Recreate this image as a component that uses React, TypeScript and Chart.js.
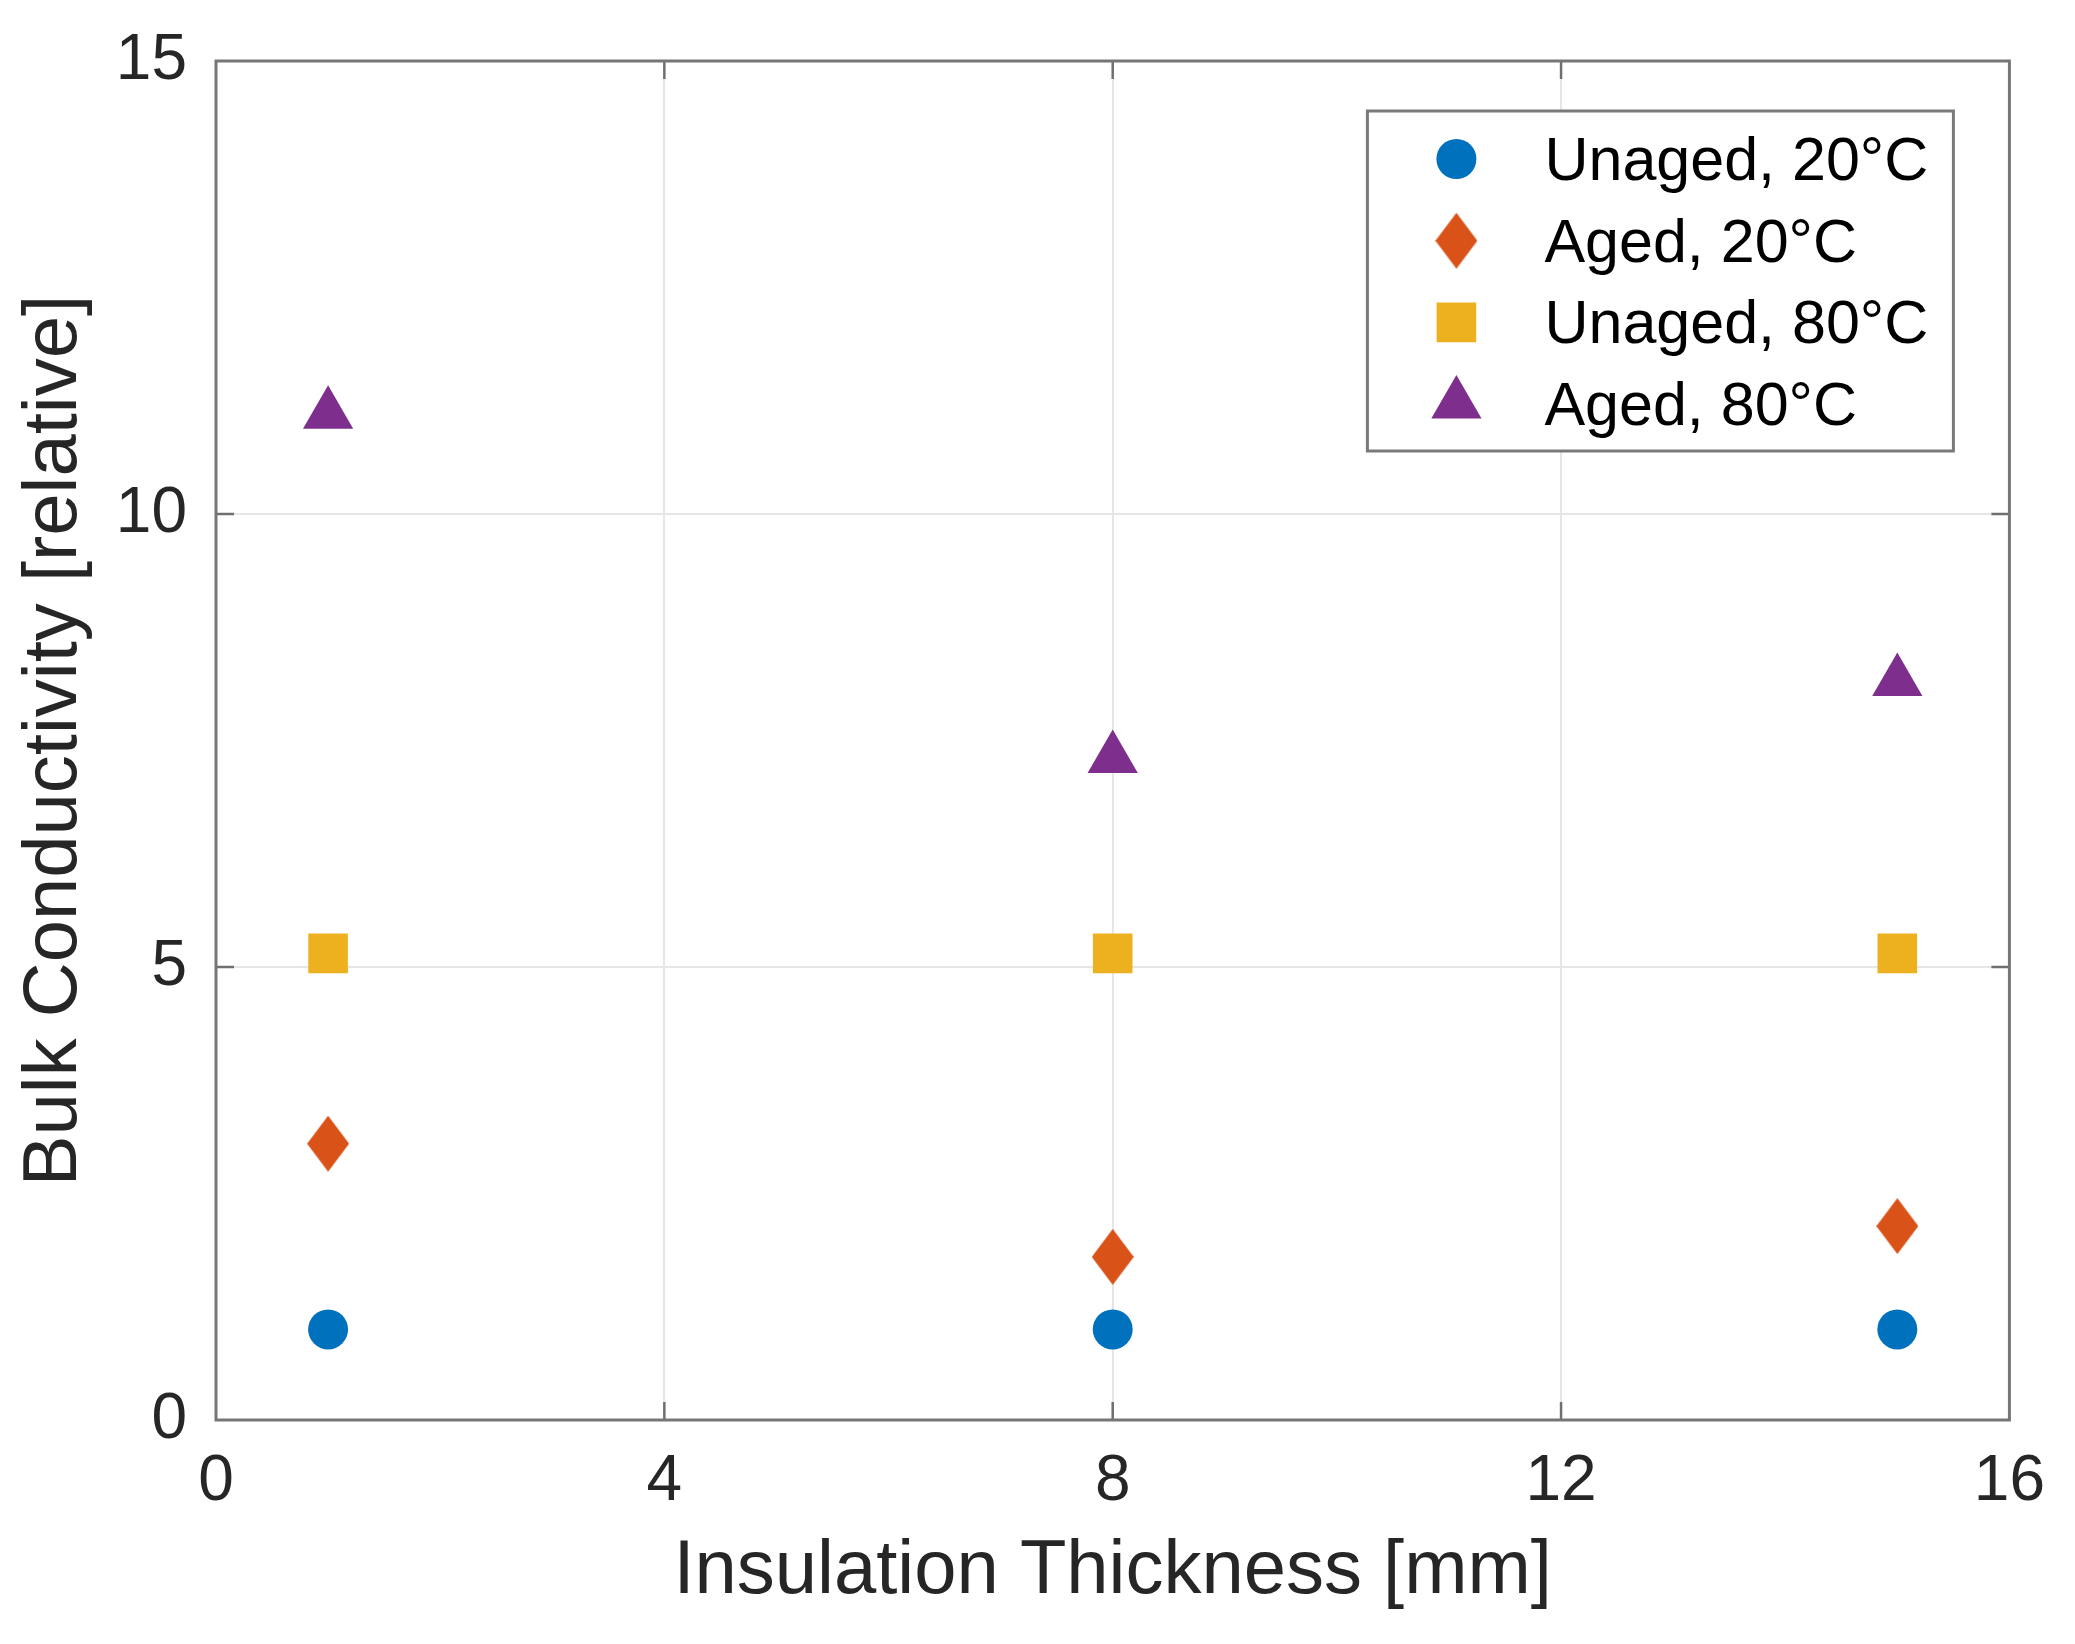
import React, { useEffect, useRef } from 'react';
import { Chart, registerables } from 'chart.js';
import { drawPoint } from 'chart.js/helpers';

Chart.register(...registerables);

// ---- data ----
const thicknessMm = [1, 8, 15];
const unaged20C = [1.0, 1.0, 1.0];
const aged20C = [3.05, 1.8, 2.14];
const unaged80C = [5.15, 5.15, 5.15];
const aged80C = [11.1, 7.3, 8.15];
const seriesLabels = ['Unaged, 20\u00B0C', 'Aged, 20\u00B0C', 'Unaged, 80\u00B0C', 'Aged, 80\u00B0C'];
const xAxisTitle = 'Insulation Thickness [mm]';
const yAxisTitle = 'Bulk Conductivity [relative]';

const FONT = "'Liberation Sans', Arial, Helvetica, sans-serif";
const COLORS = ['#0072BD', '#D95319', '#EDB120', '#7E2F8E'];

function makeDiamond(color: string): HTMLCanvasElement {
  const c = document.createElement('canvas');
  c.width = 42;
  c.height = 56;
  const g = c.getContext('2d')!;
  g.fillStyle = color;
  g.beginPath();
  g.moveTo(21, 0);
  g.lineTo(42, 28);
  g.lineTo(21, 56);
  g.lineTo(0, 28);
  g.closePath();
  g.fill();
  return c;
}

const framePlugin = {
  id: 'matlabFrame',
  beforeDatasetsDraw(chart: any) {
    const { ctx, chartArea } = chart;
    const { left, right, top, bottom } = chartArea;
    const xs = chart.scales.x;
    const ys = chart.scales.y;
    const tl = 18;
    ctx.save();
    ctx.strokeStyle = '#6f6f6f';
    ctx.lineWidth = 2.5;
    ctx.beginPath();
    xs.ticks.forEach((t: any) => {
      const px = xs.getPixelForValue(t.value);
      if (Math.abs(px - left) < 1 || Math.abs(px - right) < 1) return;
      ctx.moveTo(px, bottom);
      ctx.lineTo(px, bottom - tl);
      ctx.moveTo(px, top);
      ctx.lineTo(px, top + tl);
    });
    ys.ticks.forEach((t: any) => {
      const py = ys.getPixelForValue(t.value);
      if (Math.abs(py - top) < 1 || Math.abs(py - bottom) < 1) return;
      ctx.moveTo(left, py);
      ctx.lineTo(left + tl, py);
      ctx.moveTo(right, py);
      ctx.lineTo(right - tl, py);
    });
    ctx.stroke();
    ctx.strokeStyle = '#767676';
    ctx.lineWidth = 3;
    ctx.strokeRect(left, top, right - left, bottom - top);
    ctx.restore();
  },
};

const legendPlugin = {
  id: 'matlabLegend',
  afterDraw(chart: any) {
    const { ctx, chartArea } = chart;
    const boxW = 586;
    const boxH = 340;
    const boxRight = chartArea.right - 56;
    const boxTop = chartArea.top + 50;
    const boxLeft = boxRight - boxW;
    ctx.save();
    ctx.fillStyle = '#ffffff';
    ctx.fillRect(boxLeft, boxTop, boxW, boxH);
    ctx.strokeStyle = '#7a7a7a';
    ctx.lineWidth = 3;
    ctx.strokeRect(boxLeft, boxTop, boxW, boxH);
    const rowStart = boxTop + 48;
    const rowGap = 81.7;
    chart.data.datasets.forEach((ds: any, i: number) => {
      const cy = rowStart + i * rowGap;
      const mx = boxLeft + 89;
      ctx.fillStyle = ds.backgroundColor;
      drawPoint(ctx, { pointStyle: ds.pointStyle, radius: ds.pointRadius, rotation: 0, borderWidth: 0 } as any, mx, cy);
      ctx.fillStyle = '#000000';
      ctx.font = `61px ${FONT}`;
      ctx.textAlign = 'left';
      ctx.textBaseline = 'middle';
      ctx.fillText(ds.label, boxLeft + 177, cy + 4);
    });
    ctx.restore();
  },
};

export default function App() {
  const canvasRef = useRef<HTMLCanvasElement | null>(null);

  useEffect(() => {
    document.body.style.margin = '0';
    document.body.style.overflow = 'hidden';
    const canvas = canvasRef.current!;
    const diamond = makeDiamond(COLORS[1]);
    const series = [unaged20C, aged20C, unaged80C, aged80C];
    const styles: any[] = ['circle', diamond, 'rect', 'triangle'];
    const radii = [20, 28, 28, 29];
    const datasets = series.map((vals, i) => ({
      label: seriesLabels[i],
      data: thicknessMm.map((x, j) => ({ x, y: vals[j] })),
      backgroundColor: COLORS[i],
      borderColor: COLORS[i],
      pointStyle: styles[i],
      pointRadius: radii[i],
      pointHoverRadius: radii[i],
      pointBorderWidth: 0,
      showLine: false,
    }));

    const tickFont = { family: FONT, size: 64, lineHeight: 1 };
    const titleFont = { family: FONT, size: 76, lineHeight: 1 };

    const chart = new Chart(canvas, {
      type: 'scatter',
      data: { datasets },
      options: {
        responsive: false,
        animation: false,
        events: [],
        layout: { padding: { left: 0, top: 53, right: 55, bottom: 0 } },
        plugins: { legend: { display: false }, tooltip: { enabled: false } },
        scales: {
          x: {
            type: 'linear',
            min: 0,
            max: 16,
            ticks: { stepSize: 4, padding: 30, font: tickFont, color: '#262626', maxRotation: 0 },
            grid: { color: '#e6e6e6', lineWidth: 2, drawTicks: false },
            border: { display: false },
            title: { display: true, text: xAxisTitle, font: titleFont, color: '#262626', padding: { top: 0, bottom: 34 } },
            afterFit(s: any) { s.height = 224; },
          },
          y: {
            type: 'linear',
            min: 0,
            max: 15,
            ticks: { stepSize: 5, padding: 29, font: tickFont, color: '#262626' },
            grid: { color: '#e6e6e6', lineWidth: 2, drawTicks: false },
            border: { display: false },
            title: { display: true, text: yAxisTitle, font: titleFont, color: '#262626', padding: { top: 17, bottom: 0 } },
            afterFit(s: any) { s.width = 216; },
          },
        },
      } as any,
      plugins: [framePlugin, legendPlugin],
    });
    return () => chart.destroy();
  }, []);

  return (
    <div style={{ position: 'absolute', left: 0, top: 0, width: 2075, height: 1644, background: '#fff' }}>
      <canvas ref={canvasRef} width={2075} height={1644} style={{ display: 'block', width: 2075, height: 1644 }} />
    </div>
  );
}
